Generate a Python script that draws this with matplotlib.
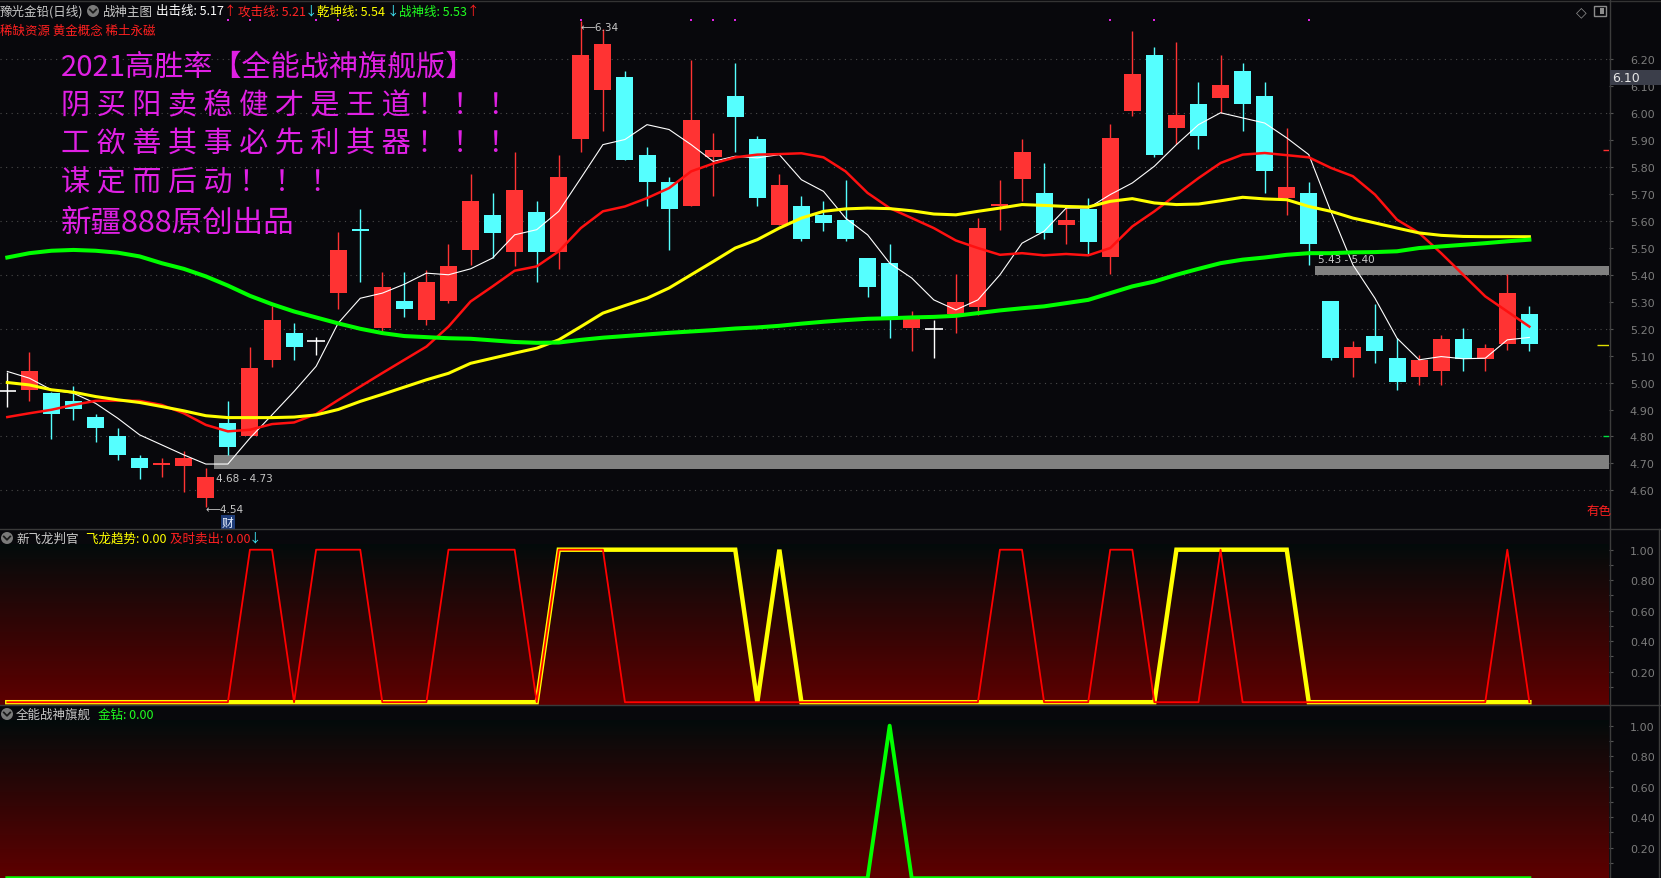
import numpy as np
import matplotlib
matplotlib.use("Agg")
import matplotlib.pyplot as plt
import matplotlib.transforms as mtransforms
from matplotlib.colors import LinearSegmentedColormap
from matplotlib.patches import Rectangle, Ellipse
from matplotlib.lines import Line2D

plt.rcParams['font.family'] = ['Noto Sans CJK SC', 'DejaVu Sans']
plt.rcParams['axes.unicode_minus'] = False

# ---------------- data ----------------
opens = [4.970, 4.973, 4.960, 4.932, 4.872, 4.801, 4.720, 4.695, 4.691, 4.574,
         4.849, 4.802, 5.084, 5.183, 5.152, 5.331, 5.570, 5.202, 5.303, 5.232,
         5.303, 5.492, 5.620, 5.483, 5.631, 5.483, 5.903, 6.085, 6.132, 5.843,
         5.743, 5.655, 5.834, 6.062, 5.902, 5.584, 5.652, 5.619, 5.602, 5.461,
         5.442, 5.201, 5.199, 5.253, 5.278, 5.655, 5.755, 5.702, 5.584, 5.643,
         5.465, 6.005, 6.214, 5.943, 6.032, 6.054, 6.153, 6.062, 5.683, 5.702,
         5.301, 5.092, 5.172, 5.090, 5.022, 5.043, 5.160, 5.086, 5.143, 5.253]
highs = [5.040, 5.112, 4.965, 4.988, 4.883, 4.831, 4.730, 4.720, 4.748, 4.683,
         4.930, 5.130, 5.284, 5.220, 5.170, 5.559, 5.642, 5.411, 5.411, 5.418,
         5.513, 5.774, 5.702, 5.854, 5.673, 5.843, 6.340, 6.311, 6.155, 5.873,
         5.761, 6.193, 5.924, 6.184, 5.912, 5.774, 5.690, 5.671, 5.751, 5.461,
         5.513, 5.263, 5.232, 5.401, 5.611, 5.751, 5.902, 5.813, 5.659, 5.683,
         5.956, 6.303, 6.242, 6.262, 6.113, 6.214, 6.184, 6.113, 5.943, 5.743,
         5.301, 5.155, 5.290, 5.164, 5.102, 5.176, 5.201, 5.143, 5.401, 5.282]
lows = [4.910, 4.932, 4.791, 4.862, 4.781, 4.714, 4.643, 4.651, 4.593, 4.540,
        4.732, 4.802, 5.056, 5.084, 5.102, 5.273, 5.372, 5.180, 5.244, 5.214,
        5.295, 5.436, 5.461, 5.432, 5.374, 5.421, 5.854, 5.931, 5.825, 5.655,
        5.492, 5.655, 5.692, 5.854, 5.655, 5.584, 5.523, 5.562, 5.523, 5.315,
        5.164, 5.115, 5.092, 5.185, 5.251, 5.563, 5.671, 5.533, 5.513, 5.472,
        5.401, 5.986, 5.834, 5.885, 5.863, 5.999, 5.933, 5.702, 5.621, 5.434,
        5.083, 5.022, 5.074, 4.973, 4.991, 4.991, 5.043, 5.043, 5.122, 5.115]
closes = [4.970, 5.041, 4.883, 4.902, 4.831, 4.732, 4.683, 4.700, 4.720, 4.649,
          4.762, 5.053, 5.231, 5.132, 5.152, 5.491, 5.562, 5.353, 5.273, 5.372,
          5.432, 5.673, 5.553, 5.713, 5.483, 5.761, 6.214, 6.254, 5.825, 5.744,
          5.644, 5.973, 5.861, 5.985, 5.683, 5.732, 5.532, 5.591, 5.532, 5.355,
          5.241, 5.238, 5.199, 5.300, 5.572, 5.660, 5.854, 5.554, 5.603, 5.520,
          5.904, 6.143, 5.844, 5.990, 5.914, 6.101, 6.032, 5.785, 5.724, 5.513,
          5.092, 5.131, 5.115, 5.003, 5.084, 5.160, 5.086, 5.129, 5.331, 5.143]

# 出击线 (white)
line_chuji = [5.041, 5.016, 4.973, 4.960, 4.923, 4.868, 4.806, 4.769, 4.732, 4.698,
              4.698, 4.794, 4.880, 4.967, 5.060, 5.220, 5.312, 5.331, 5.364, 5.405,
              5.399, 5.421, 5.461, 5.547, 5.566, 5.634, 5.757, 5.881, 5.900, 5.955,
              5.937, 5.881, 5.819, 5.838, 5.832, 5.844, 5.751, 5.708, 5.609, 5.547,
              5.442, 5.387, 5.306, 5.269, 5.306, 5.399, 5.516, 5.560, 5.646, 5.646,
              5.696, 5.739, 5.801, 5.881, 5.955, 5.999, 5.980, 5.961, 5.906, 5.844,
              5.634, 5.436, 5.312, 5.164, 5.084, 5.096, 5.088, 5.090, 5.158, 5.167]
# 攻击线 (red)
line_gongji = [4.872, 4.886, 4.899, 4.917, 4.932, 4.933, 4.932, 4.917, 4.886, 4.843,
               4.819, 4.825, 4.846, 4.852, 4.883, 4.935, 4.985, 5.035, 5.084, 5.133,
               5.207, 5.300, 5.356, 5.414, 5.430, 5.486, 5.572, 5.634, 5.652, 5.683,
               5.720, 5.782, 5.811, 5.834, 5.844, 5.846, 5.849, 5.834, 5.782, 5.702,
               5.646, 5.609, 5.572, 5.526, 5.498, 5.473, 5.479, 5.471, 5.476, 5.471,
               5.498, 5.578, 5.634, 5.696, 5.757, 5.813, 5.844, 5.850, 5.842, 5.834,
               5.795, 5.764, 5.696, 5.603, 5.554, 5.479, 5.399, 5.319, 5.263, 5.207]
# 乾坤线 (yellow)
line_qiankun = [5.000, 4.991, 4.973, 4.964, 4.948, 4.936, 4.926, 4.911, 4.895, 4.877,
                4.870, 4.870, 4.870, 4.872, 4.880, 4.900, 4.930, 4.956, 4.983, 5.010,
                5.034, 5.071, 5.090, 5.109, 5.127, 5.158, 5.207, 5.257, 5.285, 5.312,
                5.350, 5.399, 5.448, 5.498, 5.529, 5.572, 5.609, 5.634, 5.643, 5.646,
                5.644, 5.636, 5.624, 5.621, 5.634, 5.646, 5.659, 5.656, 5.652, 5.650,
                5.671, 5.681, 5.665, 5.659, 5.661, 5.673, 5.686, 5.680, 5.677, 5.652,
                5.634, 5.609, 5.591, 5.572, 5.554, 5.545, 5.541, 5.540, 5.540, 5.540]
# 战神线 (green)
line_zhanshen = [5.463, 5.479, 5.488, 5.491, 5.488, 5.481, 5.467, 5.442, 5.421, 5.393,
                 5.359, 5.321, 5.290, 5.263, 5.241, 5.219, 5.199, 5.183, 5.172, 5.168,
                 5.164, 5.162, 5.156, 5.150, 5.147, 5.148, 5.158, 5.166, 5.172, 5.178,
                 5.184, 5.189, 5.194, 5.200, 5.204, 5.210, 5.218, 5.225, 5.231, 5.236,
                 5.238, 5.241, 5.243, 5.247, 5.257, 5.267, 5.275, 5.282, 5.294, 5.306,
                 5.331, 5.356, 5.374, 5.399, 5.421, 5.442, 5.455, 5.463, 5.473, 5.479,
                 5.479, 5.482, 5.483, 5.486, 5.498, 5.504, 5.510, 5.516, 5.523, 5.529]

# 新飞龙判官
sig_feilong = [0, 0, 0, 0, 0, 0, 0, 0, 0, 0,
               0, 0, 0, 0, 0, 0, 0, 0, 0, 0,
               0, 0, 0, 0, 0, 1, 1, 1, 1, 1,
               1, 1, 1, 1, 0, 1, 0, 0, 0, 0,
               0, 0, 0, 0, 0, 0, 0, 0, 0, 0,
               0, 0, 0, 1, 1, 1, 1, 1, 1, 0,
               0, 0, 0, 0, 0, 0, 0, 0, 0, 0]
sig_sell = [0, 0, 0, 0, 0, 0, 0, 0, 0, 0,
            0, 1, 1, 0, 1, 1, 1, 0, 0, 0,
            1, 1, 1, 1, 0, 1, 1, 1, 0, 0,
            0, 0, 0, 0, 0, 0, 0, 0, 0, 0,
            0, 0, 0, 0, 0, 1, 1, 0, 0, 0,
            1, 1, 0, 0, 0, 1, 0, 0, 0, 0,
            0, 0, 0, 0, 0, 0, 0, 0, 1, 0]
# 全能战神旗舰 金钻
sig_gold = [0, 0, 0, 0, 0, 0, 0, 0, 0, 0,
            0, 0, 0, 0, 0, 0, 0, 0, 0, 0,
            0, 0, 0, 0, 0, 0, 0, 0, 0, 0,
            0, 0, 0, 0, 0, 0, 0, 0, 0, 0,
            1, 0, 0, 0, 0, 0, 0, 0, 0, 0,
            0, 0, 0, 0, 0, 0, 0, 0, 0, 0,
            0, 0, 0, 0, 0, 0, 0, 0, 0, 0]

dot_idx = [10, 11, 14, 15, 26, 31, 32, 33, 50, 52, 59]
zones = [(4.68, 4.73, 9.35), (5.40, 5.43, 59.3)]
price_ticks = [4.60, 4.70, 4.80, 4.90, 5.00, 5.10, 5.20, 5.30, 5.40, 5.50,
               5.60, 5.70, 5.80, 5.90, 6.00, 6.10, 6.20]
grid_levels = [4.60, 4.80, 5.00, 5.20, 5.40, 5.60, 5.80, 6.00, 6.20]
sub_ticks = [0.20, 0.40, 0.60, 0.80, 1.00]
sub_minor = [0.10, 0.30, 0.50, 0.70, 0.90]

# ---------------- layout ----------------
W, H, DPI = 1661, 879, 100
BG = '#08080c'
RED = '#ff3333'
CYAN = '#55ffff'
MAG = '#e020e4'
AXL = 1609  # right axis line (px)

fig = plt.figure(figsize=(W / DPI, H / DPI), dpi=DPI, facecolor=BG)


def pax(x0, y0, x1, y1):
    ax = fig.add_axes([x0 / W, 1 - y1 / H, (x1 - x0) / W, (y1 - y0) / H])
    ax.set_facecolor(BG)
    for s in ax.spines.values():
        s.set_visible(False)
    return ax


def style_y(ax, major, minor=None):
    ax.yaxis.tick_right()
    ax.set_yticks(major)
    ax.set_yticklabels([f'{v:.2f}' for v in major], fontfamily='DejaVu Sans')
    if minor is not None:
        ax.set_yticks(minor, minor=True)
    ax.tick_params(axis='y', which='both', direction='out', length=3, width=0.8,
                   color='#555555', labelcolor='#7c7c7c', labelsize=8, pad=12)
    ax.set_xticks([])


def ftext(x, y, s, **kw):
    return fig.text(x / W, 1 - y / H, s, **kw)


n = len(closes)
x = np.arange(n)
xlim = (-0.331, 72.61)

# ---------- main panel ----------
main = pax(0, 0, AXL, 530)
main.set_xlim(*xlim)
main.set_ylim(4.4574, 6.4204)
style_y(main, price_ticks)

for g in grid_levels:
    main.axhline(g, color='#4a4a4a', lw=0.8, ls=(0, (1, 4)), zorder=0.5)

for lo, hi, start in zones:
    main.fill_between([start, xlim[1]], lo, hi, color='#808080', lw=0, zorder=1.8)

O = np.array(opens); C = np.array(closes)
cols = np.array([RED if c > o else (CYAN if c < o else '#ffffff') for o, c in zip(opens, closes)])
main.vlines(x, lows, highs, colors=cols, lw=1.0, zorder=2)
mask = np.abs(C - O) > 0
main.bar(x[mask], np.maximum(np.abs(C - O)[mask], 0.005), bottom=np.minimum(O, C)[mask],
         width=0.77, color=cols[mask], linewidth=0, zorder=2.2)
main.hlines(O[~mask], x[~mask] - 0.4, x[~mask] + 0.4, colors=cols[~mask], lw=1.2, zorder=2.2)

main.plot(x, line_chuji, color='#ffffff', lw=0.8, zorder=3)
main.plot(x, line_gongji, color='#ff1010', lw=1.8, zorder=3.1)
main.plot(x, line_qiankun, color='#ffff00', lw=2.2, zorder=3.2)
main.plot(x, line_zhanshen, color='#00ff00', lw=2.9, zorder=3.3)

trans_dots = mtransforms.blended_transform_factory(main.transData, main.transAxes)
main.scatter(dot_idx, [1 - 21 / 530] * len(dot_idx), transform=trans_dots,
             marker='s', s=3, color=MAG, lw=0, zorder=4)

# right-edge value marks
main.hlines([5.86], 72.33, xlim[1], color='#ff3030', lw=1.0, zorder=4)
main.hlines([5.14], 72.06, xlim[1], color='#e0e000', lw=1.0, zorder=4)
main.hlines([4.80], 72.33, xlim[1], color='#00e040', lw=1.0, zorder=4)

num_kw = dict(color='#c8c8c8', fontsize=7.5, fontfamily='DejaVu Sans', zorder=5)
main.text(26, 6.318, '\u27f56.34', ha='left', va='center', **num_kw)
main.text(9, 4.532, '\u27f54.54', ha='left', va='center', **num_kw)
main.text(9.46, 4.6463, '4.68 - 4.73', ha='left', va='center', **num_kw)
main.text(59.42, 5.4574, '5.43 - 5.40', ha='left', va='center', **num_kw)
main.text(10, 4.4833, '财', ha='center', va='center', color='#e8f0ff', fontsize=8.5, zorder=5,
          bbox=dict(boxstyle='square,pad=0.08', fc='#1e3c78', ec='none'))

# big promo text
big = [('2021高胜率【全能战神旗舰版】', 68, 21),
       ('阴 买 阳 卖 稳 健 才 是 王 道 ！ ！ ！', 106, 21),
       ('工 欲 善 其 事 必 先 利 其 器 ！ ！ ！', 144, 21),
       ('谋 定 而 后 动 ！ ！ ！', 183, 21),
       ('新疆888原创出品', 223, 22)]
for s, yy, fs in big:
    ftext(61, yy, s, color=MAG, fontsize=fs, ha='left', va='center', zorder=6)

# ---------- panel 2 ----------
grad = np.linspace(0, 1, 256).reshape(-1, 1)
cmap = LinearSegmentedColormap.from_list('bg', ['#030b0b', '#5e0000'])

p2 = pax(0, 530, AXL, 706)
p2_ylim = (-0.0184, 1.1357)
p2.imshow(grad, cmap=cmap, aspect='auto', extent=[xlim[0], xlim[1], p2_ylim[0], 1.031],
          zorder=0, interpolation='bilinear')
p2.set_xlim(*xlim); p2.set_ylim(*p2_ylim)
style_y(p2, sub_ticks, sub_minor)
p2.plot(x, sig_feilong, color='#ffff00', lw=3.2, zorder=3, solid_joinstyle='miter')
p2.plot(x, sig_sell, color='#ff0000', lw=1.3, zorder=4)

# ---------- panel 3 ----------
p3 = pax(0, 706, AXL, 879)
p3_ylim = (0.0013, 1.1357)
p3.imshow(grad, cmap=cmap, aspect='auto', extent=[xlim[0], xlim[1], p3_ylim[0], 1.031],
          zorder=0, interpolation='bilinear')
p3.set_xlim(*xlim); p3.set_ylim(*p3_ylim)
style_y(p3, sub_ticks, sub_minor)
p3.plot(x, sig_gold, color='#00ff00', lw=2.8, zorder=3)

# ---------- frame lines ----------
def fline(xs, ys, **kw):
    fig.add_artist(Line2D([v / W for v in xs], [1 - v / H for v in ys],
                          transform=fig.transFigure, **kw))

fline([0, W], [1.5, 1.5], color='#343434', lw=1, zorder=8)
fline([0, W], [530, 530], color='#3a3a3a', lw=1, zorder=8)
fline([0, W], [706, 706], color='#3a3a3a', lw=1, zorder=8)
fline([AXL + 0.5, AXL + 0.5], [0, H], color='#3c3c3c', lw=1, zorder=8)
fline([W - 2, W - 2], [530, H], color='#3c3c3c', lw=1, zorder=8)

# crosshair price box
fig.add_artist(Rectangle(((AXL + 1) / W, 1 - 86 / H), (W - AXL - 1) / W, 15.4 / H,
                         transform=fig.transFigure, facecolor='#3b3e4a', edgecolor='none', zorder=10))
ftext(1612, 78.3, '6.10', color='#e6e6e6', fontsize=9, fontfamily='DejaVu Sans',
      ha='left', va='center', zorder=11)

# top-right icons
ftext(1581, 12, '\u25c7', color='#8c8c8c', fontsize=10, fontfamily='DejaVu Sans',
      ha='center', va='center', zorder=11)
fig.add_artist(Rectangle((1594 / W, 1 - 17 / H), 12 / W, 10 / H, transform=fig.transFigure,
                         facecolor='none', edgecolor='#8c8c8c', lw=1, zorder=11))
fig.add_artist(Rectangle((1600 / W, 1 - 15 / H), 4 / W, 6 / H, transform=fig.transFigure,
                         facecolor='#8c8c8c', edgecolor='none', zorder=11))


def icon(cx, cy):
    fig.add_artist(Ellipse((cx / W, 1 - cy / H), 12 / W, 12 / H, transform=fig.transFigure,
                           facecolor='#7a7a7a', edgecolor='none', zorder=11))
    fline([cx - 3.2, cx, cx + 3.2], [cy - 1.5, cy + 1.8, cy - 1.5], color='#1a1a1a', lw=1.3, zorder=12)


# ---------- headers ----------
hk = dict(fontsize=9, ha='left', va='center', zorder=11)
ftext(0, 12, '豫光金铅(日线)', color='#c8c8c8', **hk)
icon(93, 12)
ftext(103, 12, '战神主图', color='#c8c8c8', **hk)
ftext(156, 12, '出击线: 5.17', color='#ffffff', **hk)
ftext(224, 12, '\u2191', color='#ff2020', **hk)
ftext(238.5, 12, '攻击线: 5.21', color='#ff2424', **hk)
ftext(305, 12, '\u2193', color='#40e8f8', **hk)
ftext(317, 12, '乾坤线: 5.54', color='#ffff00', **hk)
ftext(386.5, 12, '\u2193', color='#40e8f8', **hk)
ftext(399, 12, '战神线: 5.53', color='#20ff20', **hk)
ftext(467, 12, '\u2191', color='#ff2020', **hk)
ftext(0, 31, '稀缺资源 黄金概念 稀土永磁', color='#ff2020', **hk)
ftext(1586, 511, '有色', color='#ff2020', **hk)

icon(7, 539)
ftext(16, 539, '新飞龙判官', color='#c8c8c8', **hk)
ftext(86, 539, '飞龙趋势: 0.00', color='#ffff00', **hk)
ftext(170, 539, '及时卖出: 0.00', color='#ff2020', **hk)
ftext(249, 539, '\u2193', color='#40e8f8', **hk)

icon(7, 715)
ftext(16, 715, '全能战神旗舰', color='#c8c8c8', **hk)
ftext(98, 715, '金钻: 0.00', color='#20ff20', **hk)

fig.savefig('out.png', dpi=DPI, facecolor=BG)
